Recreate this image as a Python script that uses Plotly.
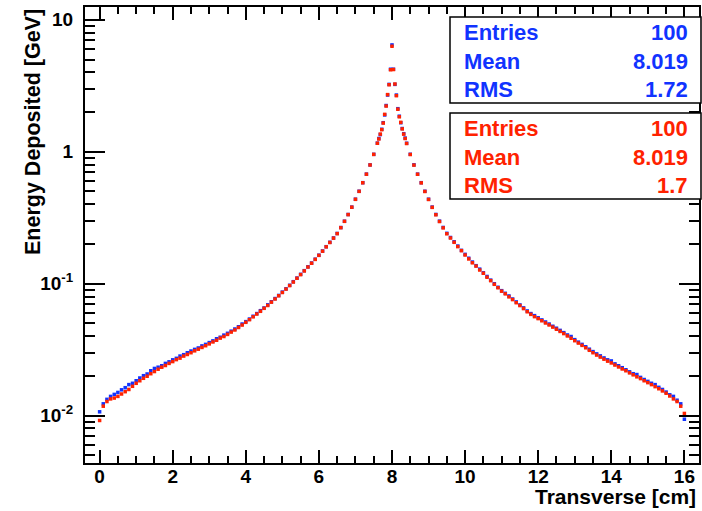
import numpy as np
import plotly.graph_objects as go

# ---- bin centres (cm) ----
x_left = np.round(np.arange(77) * 0.1, 2)            # 0.0 .. 7.6
x_peak = np.round(7.64 + np.arange(19) * 0.04, 2)    # 7.64 .. 8.36
x_right = np.round(8.4 + np.arange(77) * 0.1, 2)     # 8.4 .. 16.0

# ---- blue histogram (GeV) ----
blue_left = [0.0107, 0.0123, 0.0133, 0.0140, 0.0145, 0.0150, 0.0157, 0.0163, 0.0172, 0.0176,
             0.0184, 0.0193, 0.0201, 0.0207, 0.0219, 0.0228, 0.0233, 0.0239, 0.0249, 0.0256,
             0.0265, 0.0272, 0.0283, 0.0290, 0.0300, 0.0309, 0.0318, 0.0326, 0.0338, 0.0347,
             0.0358, 0.0369, 0.0383, 0.0393, 0.0408, 0.0421, 0.0437, 0.0454, 0.0472, 0.0495,
             0.0516, 0.0540, 0.0567, 0.0594, 0.0625, 0.0655, 0.0692, 0.0730, 0.0772, 0.0815,
             0.0864, 0.0915, 0.0973, 0.1036, 0.1104, 0.1178, 0.1256, 0.1343, 0.1435, 0.1534,
             0.1645, 0.1770, 0.1908, 0.2060, 0.2222, 0.2403, 0.2665, 0.2976, 0.3346, 0.3806,
             0.437, 0.502, 0.583, 0.677, 0.795, 0.956, 1.162]
blue_peak = [1.26, 1.35, 1.48, 1.66, 1.90, 2.24, 2.69, 3.24, 4.22, 6.45,
             4.22, 3.24, 2.69, 2.12, 1.86, 1.66, 1.50, 1.37, 1.27]
blue_right = [1.16, 0.957, 0.796, 0.677, 0.583, 0.502, 0.437, 0.381, 0.335, 0.298,
              0.267, 0.241, 0.224, 0.208, 0.193, 0.179, 0.167, 0.156, 0.146, 0.137,
              0.129, 0.121, 0.1135, 0.1065, 0.100, 0.094, 0.0886, 0.0846, 0.0808, 0.0766,
              0.0728, 0.0691, 0.0656, 0.0622, 0.0594, 0.0573, 0.0552, 0.0532, 0.0513, 0.0495,
              0.0476, 0.0460, 0.0443, 0.0426, 0.0409, 0.0398, 0.0377, 0.0361, 0.0347, 0.0333,
              0.0319, 0.0306, 0.0294, 0.0284, 0.0274, 0.0265, 0.0260, 0.0247, 0.0239, 0.0231,
              0.0223, 0.0215, 0.0208, 0.0205, 0.0195, 0.0188, 0.0182, 0.0176, 0.0172, 0.0164,
              0.0158, 0.0151, 0.0144, 0.0140, 0.0131, 0.0123, 0.0094]

# ---- red histogram (GeV) ----
red_left = [0.0092, 0.0118, 0.0128, 0.0134, 0.0136, 0.0140, 0.0146, 0.0152, 0.0158, 0.0167,
            0.0176, 0.0184, 0.0192, 0.0199, 0.0208, 0.0216, 0.0225, 0.0233, 0.0240, 0.0249,
            0.0257, 0.0266, 0.0273, 0.0283, 0.0291, 0.0300, 0.0310, 0.0319, 0.0329, 0.0339,
            0.0350, 0.0362, 0.0373, 0.0387, 0.0398, 0.0413, 0.0430, 0.0446, 0.0466, 0.0486,
            0.0510, 0.0534, 0.0561, 0.0589, 0.0618, 0.0651, 0.0684, 0.0725, 0.0766, 0.0810,
            0.0858, 0.0910, 0.0968, 0.1030, 0.1100, 0.1172, 0.1250, 0.1338, 0.1430, 0.1529,
            0.1640, 0.1764, 0.1903, 0.2054, 0.2215, 0.2397, 0.2658, 0.2970, 0.3340, 0.3800,
            0.436, 0.501, 0.582, 0.676, 0.794, 0.955, 1.160]
red_peak = [1.25, 1.36, 1.47, 1.65, 1.92, 2.22, 2.71, 3.22, 4.18, 6.30,
            4.20, 3.26, 2.66, 2.10, 1.84, 1.67, 1.49, 1.36, 1.26]
red_right = [1.155, 0.953, 0.792, 0.675, 0.581, 0.500, 0.435, 0.379, 0.333, 0.296,
             0.265, 0.239, 0.222, 0.206, 0.191, 0.178, 0.165, 0.154, 0.144, 0.136,
             0.127, 0.120, 0.112, 0.1055, 0.0990, 0.0932, 0.0878, 0.0838, 0.0795, 0.0758,
             0.0718, 0.0683, 0.0648, 0.0613, 0.0586, 0.0563, 0.0544, 0.0524, 0.0504, 0.0487,
             0.0469, 0.0452, 0.0435, 0.0419, 0.0402, 0.0386, 0.0370, 0.0355, 0.0341, 0.0327,
             0.0313, 0.0300, 0.0288, 0.0278, 0.0268, 0.0259, 0.0251, 0.0242, 0.0234, 0.0226,
             0.0219, 0.0211, 0.0204, 0.0197, 0.0191, 0.0184, 0.0178, 0.0172, 0.0166, 0.0160,
             0.0154, 0.0148, 0.0141, 0.0134, 0.0128, 0.0118, 0.0104]

bin_x = list(x_left) + list(x_peak) + list(x_right)
blue_y = blue_left + blue_peak + blue_right
red_y = red_left + red_peak + red_right

# ---- labels ----
x_title = "Transverse [cm]"
y_title = "Energy Deposited [GeV]"
y_tickvals = [0.01, 0.1, 1, 10]
y_ticktext = ["10<sup>-2</sup>", "10<sup>-1</sup>", "1", "10"]
stat_labels = ["Entries", "Mean", "RMS"]
blue_stats = ["100", "8.019", "1.72"]
red_stats = ["100", "8.019", "1.7"]

BLUE = "#1133ff"
RED = "#ff2200"
FONT = "Liberation Sans"

fig = go.Figure()
fig.add_trace(go.Scatter(x=bin_x, y=blue_y, mode="markers",
                         marker=dict(symbol="square", size=3.5, color=BLUE, line=dict(width=0)),
                         showlegend=False))
fig.add_trace(go.Scatter(x=bin_x, y=red_y, mode="markers",
                         marker=dict(symbol="square", size=3.5, color=RED, line=dict(width=0)),
                         showlegend=False))

L, R, T, B = 85, 3, 7, 48
W, H = 702, 511
PW, PH = W - L - R, H - T - B


def px_x(p):
    return (p - L) / PW


def px_y(p):
    return (H - B - p) / PH


minor_y = []
for dec in [0.001, 0.01, 0.1, 1]:
    for m in range(2, 10):
        minor_y.append(dec * m)

fig.update_layout(
    width=W, height=H,
    margin=dict(l=L, r=R, t=T, b=B, autoexpand=False),
    paper_bgcolor="white", plot_bgcolor="white",
    font=dict(family=FONT, color="black"),
    xaxis=dict(range=[-0.4, 16.4], showgrid=False, zeroline=False, automargin=False,
               showline=True, linecolor="black", linewidth=2, mirror="allticks",
               ticks="inside", ticklen=13, tickwidth=1.5, tickcolor="black",
               tick0=0, dtick=2, ticklabelstandoff=-5,
               tickfont=dict(size=19, family=FONT, weight="bold"),
               minor=dict(ticks="inside", dtick=0.5, tick0=0, ticklen=7, tickwidth=1.5,
                          tickcolor="black", showgrid=False)),
    yaxis=dict(type="log", range=[np.log10(0.00438), np.log10(12.5)],
               showgrid=False, zeroline=False, automargin=False,
               showline=True, linecolor="black", linewidth=2, mirror="allticks",
               ticks="inside", ticklen=20, tickwidth=1.5, tickcolor="black",
               tickmode="array", tickvals=y_tickvals, ticktext=y_ticktext,
               ticklabelstandoff=6,
               tickfont=dict(size=19, family=FONT, weight="bold"),
               minor=dict(ticks="inside", tickmode="array", tickvals=minor_y, ticklen=10,
                          tickwidth=1.5, tickcolor="black", showgrid=False)),
)

annotations = []
annotations.append(dict(text="<b>%s</b>" % x_title, xref="paper", yref="paper",
                        x=px_x(698), y=px_y(497), xanchor="right", yanchor="middle",
                        showarrow=False, font=dict(size=21, family=FONT, color="black")))
annotations.append(dict(text="<b>%s</b>" % y_title, xref="paper", yref="paper",
                        x=px_x(33), y=px_y(7), xanchor="center", yanchor="top",
                        textangle=-90, showarrow=False,
                        font=dict(size=21.5, family=FONT, color="black")))

shapes = []
boxes = [(17, 103, BLUE, blue_stats), (113, 199, RED, red_stats)]
for top, bot, col, vals in boxes:
    shapes.append(dict(type="rect", xref="paper", yref="paper",
                       x0=px_x(450), x1=px_x(701), y0=px_y(bot), y1=px_y(top),
                       line=dict(color="black", width=1.5), fillcolor="white", layer="above"))
    row_h = (bot - top) / 3.0
    for i, (lab, val) in enumerate(zip(stat_labels, vals)):
        yc = top + row_h * (i + 0.5) + 1
        annotations.append(dict(text="<b>%s</b>" % lab, xref="paper", yref="paper",
                                x=px_x(462), y=px_y(yc), xanchor="left", yanchor="middle",
                                showarrow=False, font=dict(size=22, family=FONT, color=col)))
        annotations.append(dict(text="<b>%s</b>" % val, xref="paper", yref="paper",
                                x=px_x(690), y=px_y(yc), xanchor="right", yanchor="middle",
                                showarrow=False, font=dict(size=22, family=FONT, color=col)))

fig.update_layout(annotations=annotations, shapes=shapes)
fig.write_html("out.html", config={"displayModeBar": False},
               post_script="document.body.style.margin='0';document.body.style.overflow='hidden';")
